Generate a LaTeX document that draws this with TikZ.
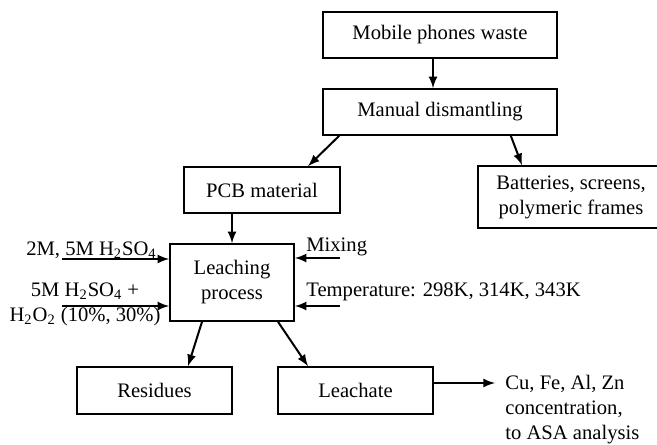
\documentclass[tikz,border=0pt]{standalone}
\usepackage{fontspec}
\setmainfont{Liberation Serif}
\usepackage{tikz}
\usetikzlibrary{arrows,positioning}

\tikzset{
    stage/.style={draw, line width=0.8pt, rectangle, minimum height=23pt, inner sep=2pt, align=center},
    note/.style={inner sep=0pt, align=center},
    flow/.style={->, >=latex, line width=1pt}
}

\begin{document}
\begin{tikzpicture}[
        x=0.5pt, y=-0.5pt,
        every node/.style={font=\fontsize{10.3}{12.5}\selectfont}
    ]
        \useasboundingbox (0,0) rectangle (657,444);
        \clip (0,0) rectangle (657,444);

        % Level 1
        \node[stage, minimum width=117pt] (mobile) at (440,35) {Mobile phones waste};
        \node[stage, minimum width=117pt] (manual) at (440,112) {Manual dismantling};

        % Level 2
        \node[stage, minimum width=78pt] (pcb) at (262,190) {PCB material};
        \node[stage, minimum width=93pt, minimum height=31pt] (batt) at (571,197) {Batteries, screens,\\polymeric frames};

        % Level 3
        \node[stage, minimum width=62pt, minimum height=38.5pt] (leach) at (232,282.5) {Leaching\\process};
        \node[note] (acid1) at (91.5,250) {2M, 5M H\textsubscript{2}SO\textsubscript{4}};
        \node[note] (acid2) at (85,304.5) {5M H\textsubscript{2}SO\textsubscript{4} +\\H\textsubscript{2}O\textsubscript{2} (10\%, 30\%)};
        \node[note, anchor=west] (mixing) at (306,247) {Mixing};
        \node[note, anchor=west] (temp) at (306,292) {Temperature: 298K, 314K, 343K};
        \coordinate (a1) at (62,259);
        \coordinate (a2) at (62,306);
        \coordinate (m1) at (340,258);
        \coordinate (t1) at (340,306);

        % Level 4
        \node[stage, minimum width=77.5pt, minimum height=23.5pt] (resid) at (154.5,390.5) {Residues};
        \node[stage, minimum width=77.5pt, minimum height=23.5pt] (leachate) at (355.5,390.5) {Leachate};
        \node[note, anchor=west, align=left, inner xsep=5pt] (result) at (495,410) {Cu, Fe, Al, Zn\\concentration,\\to ASA analysis};

        % Connect nodes
        \draw[flow] ([xshift=-3.5pt]mobile.south) -- ([xshift=-3.5pt]manual.north);
        \draw[flow] ([xshift=8.5pt]manual.south west) -- ([xshift=23pt]pcb.north);
        \draw[flow] ([xshift=-23.5pt]manual.south east) -- ([xshift=-24.5pt]batt.north);
        \draw[flow] (leach.north |- pcb.south) -- (leach.north);
        \draw[flow] (a1) -- (a1 -| leach.west);
        \draw[flow] (a2) -- (a2 -| leach.west);
        \draw[flow] (m1) -- (m1 -| leach.east);
        \draw[flow] (t1) -- (t1 -| leach.east);
        \draw[flow] ([xshift=-15pt]leach.south) -- ([xshift=16.75pt]resid.north);
        \draw[flow] ([xshift=23pt]leach.south) -- ([xshift=-23.75pt]leachate.north);
        \draw[flow] ([yshift=3.75pt]leachate.east) -- ([yshift=3.75pt]leachate.east -| result.west);
    \end{tikzpicture}
\end{document}
